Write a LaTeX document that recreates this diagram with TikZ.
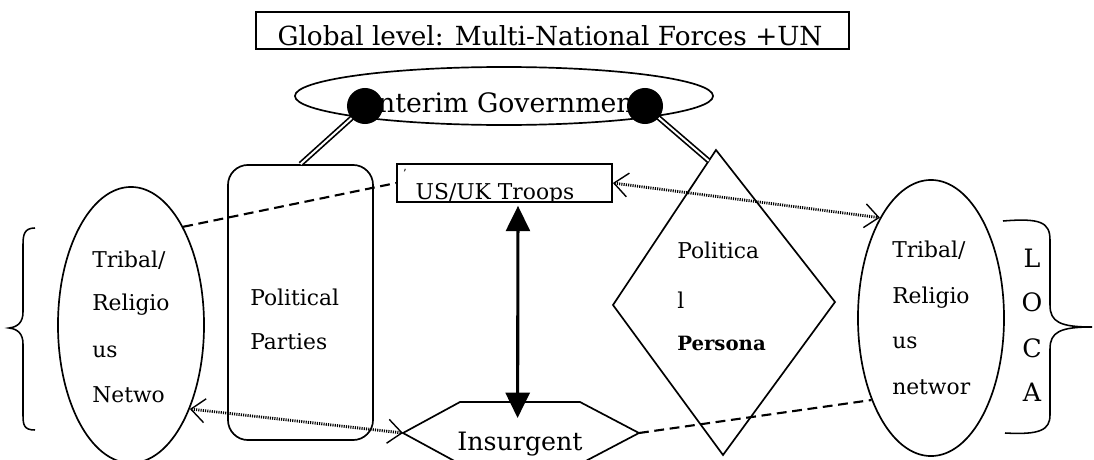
\documentclass[tikz,border=0pt]{standalone}
\usepackage{fontspec}
\setmainfont{DejaVu Serif}
\usetikzlibrary{arrows.meta,shapes.geometric,calc}
\begin{document}
\begin{tikzpicture}[x=0.025cm,y=-0.025cm,
  shp/.style={draw,line width=1.2pt},
  txt/.style={anchor=west,inner sep=0pt,font=\fontsize{15.5}{18}\selectfont},
  big/.style={inner sep=0pt,font=\fontsize{18}{22}\selectfont},
  dashln/.style={line width=1.5pt,dash pattern=on 7pt off 4pt},
  dotln/.style={line width=2pt,dash pattern=on 0.8pt off 0.8pt},
  barb/.style={{Straight Barb[length=10pt,width=17pt,line width=1pt]}-{Straight Barb[length=10pt,width=17pt,line width=1pt]}},
  dbl/.style={double,line width=1.2pt,double distance=1.4pt},
  brace/.style={line width=1.1pt}
]
\useasboundingbox (0,0) rectangle (1094,460);
\clip (0,0) rectangle (1094,460);

% global box
\node[draw,line width=1pt,minimum width=14.825cm,minimum height=0.925cm,inner sep=0pt] (glob) at (552.5,30.5) {};
\node[big,anchor=base,font=\fontsize{18.7}{22}\selectfont] (globt) at (550,46) {Global level: Multi-National Forces +UN};

% interim government
\node[shp,ellipse,minimum width=10.45cm,minimum height=1.45cm,inner sep=0pt] (gov) at (504,96) {};
\node[big,anchor=base,font=\fontsize{19}{22}\selectfont] (govt) at (506,112) {Interim Government};

% political parties
\node[shp,rounded corners=0.5cm,minimum width=3.625cm,minimum height=6.875cm,inner sep=0pt] (pp) at (300.5,302.5) {};
\node[txt] (pp1) at (250,297) {Political};
\node[txt] (pp2) at (250,342) {Parties};

% left ellipse
\node[shp,ellipse,minimum width=3.65cm,minimum height=6.9cm,inner sep=0pt] (lrel) at (131,325) {};
\node[txt] (l1) at (92,260) {Tribal/};
\node[txt] (l2) at (92,305) {Religio};
\node[txt] (l3) at (92,352) {us};
\node[txt] (l4) at (92,395) {Netwo};

% right ellipse
\node[shp,ellipse,minimum width=3.65cm,minimum height=6.9cm,inner sep=0pt] (rrel) at (931,318) {};
\node[txt] (r1) at (892,250) {Tribal/};
\node[txt] (r2) at (892,298) {Religio};
\node[txt] (r3) at (892,343) {us};
\node[txt] (r4) at (892,387) {networ};

% diamond
\coordinate (dT) at (716,150);
\coordinate (dL) at (613,305);
\coordinate (dR) at (835,302);
\coordinate (dB) at (723,455);
\draw[shp] (dT) -- (dR) -- (dB) -- (dL) -- cycle;
\coordinate (dJ) at ($(dT)!0.07!(dL)$);
\node[txt] (d1) at (677,250) {Politica};
\node[txt] (d2) at (677,300) {l};
\node[txt,font=\bfseries\fontsize{14}{16}\selectfont] (d3) at (677,343) {Persona};

% US/UK troops
\node[shp,minimum width=5.375cm,minimum height=0.95cm,inner sep=0pt] (us) at (504.5,183) {};
\begin{scope}
\clip (397,164) rectangle (612,202);
\node[inner sep=0pt,anchor=base,font=\fontsize{15.5}{18}\selectfont] (ust) at (495,199.5) {US/UK Troops};
\end{scope}
\node[inner sep=0pt,font=\fontsize{8}{8}\selectfont] (mark) at (405,173) {'};

% insurgent hexagon
\coordinate (hTL) at (460,402);
\coordinate (hTR) at (580,402);
\coordinate (hR) at (639,433);
\coordinate (hBR) at (580,464);
\coordinate (hBL) at (460,464);
\coordinate (hL) at (403,433);
\draw[shp] (hTL) -- (hTR) -- (hR) -- (hBR) -- (hBL) -- (hL) -- cycle;
\node[big,anchor=base] (ins) at (520,450) {Insurgent};

% double lines and dots
\draw[dbl] (365,106) -- (pp.north);
\draw[dbl] (645,106) -- (dJ);
\node[circle,fill,minimum size=0.9cm,inner sep=0pt] (cL) at (365,106) {};
\node[circle,fill,minimum size=0.9cm,inner sep=0pt] (cR) at (645,106) {};

% vertical arrow
\coordinate (aT) at ($(us.south)+(13.5,3)$);
\coordinate (aB) at ($(hTL)!0.48!(hTR)+(0,16)$);
\draw[line width=2.2pt,{Triangle[length=18pt,width=17pt]}-{Triangle[length=18pt,width=17pt]}] (aT) -- (aB);

% connectors
\draw[dashln] (lrel.62) -- (us.west);
\draw[dotln,barb] (us.east) -- (rrel.117);
\draw[dotln,barb] (lrel.-55) -- (hL);
\draw[dashln] (hR) -- (rrel.-126);

% braces
\draw[brace] (35,228) .. controls (24,228) and (23,235) .. (23,245) -- (23,312)
  .. controls (23,322) and (18,327) .. (9,328) .. controls (18,329) and (23,334) .. (23,344)
  -- (23,415) .. controls (23,425) and (24,430) .. (35,430);
\draw[brace] (1003,221) .. controls (1040,218) and (1050,222) .. (1050,240) -- (1050,305)
  .. controls (1050,322) and (1060,327) .. (1092,327) .. controls (1060,327) and (1050,332) .. (1050,349)
  -- (1050,415) .. controls (1050,430) and (1040,435) .. (1005,433);

% LOCA
\node[big,font=\fontsize{18}{20}\selectfont] (lo1) at (1032,258) {L};
\node[big,font=\fontsize{18}{20}\selectfont] (lo2) at (1032,302) {O};
\node[big,font=\fontsize{18}{20}\selectfont] (lo3) at (1032,348) {C};
\node[big,font=\fontsize{18}{20}\selectfont] (lo4) at (1032,392) {A};
\end{tikzpicture}
\end{document}
